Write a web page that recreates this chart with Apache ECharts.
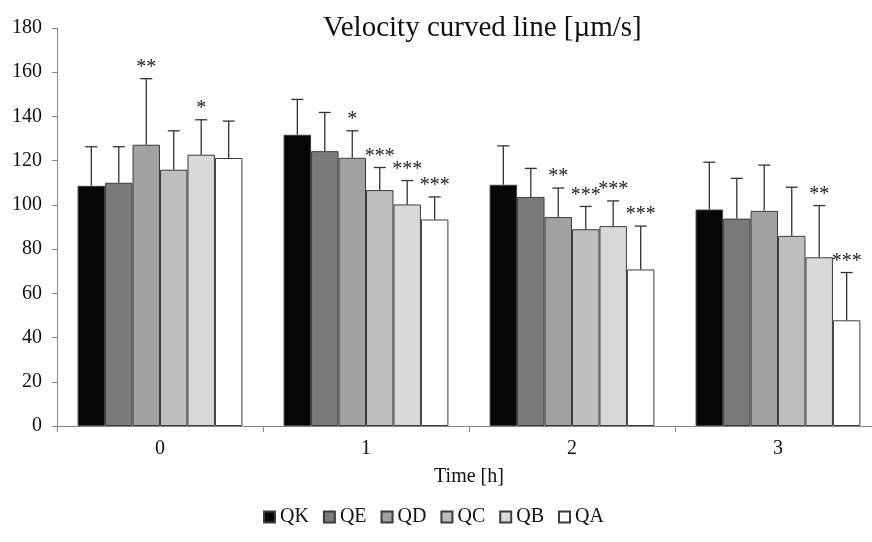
<!DOCTYPE html>
<html>
<head>
<meta charset="utf-8">
<title>Velocity curved line</title>
<script src="https://cdn.jsdelivr.net/npm/echarts@6/dist/echarts.min.js"></script>
<style>
  html, body { margin: 0; padding: 0; background: #fff; }
  #chart { width: 872px; height: 542px; }
</style>
</head>
<body>
<div id="chart"></div>
<script>
// 数据
var categories = ['0', '1', '2', '3'];
var seriesNames = ['QK', 'QE', 'QD', 'QC', 'QB', 'QA'];
var colors = ['#060606', '#7a7a78', '#a1a1a1', '#bebebe', '#d9d9d9', '#ffffff'];

// 平均值
var qkMean = [108.6, 131.7, 109.1, 97.9];
var qeMean = [110.0, 124.3, 103.6, 93.8];
var qdMean = [127.2, 121.3, 94.5, 97.3];
var qcMean = [115.9, 106.7, 89.0, 86.0];
var qbMean = [122.7, 100.2, 90.4, 76.3];
var qaMean = [121.2, 93.4, 70.8, 47.8];

// 标准差（只画上半部分）
var qkSd = [17.7, 16.0, 17.6, 21.4];
var qeSd = [16.3, 17.5, 12.9, 18.2];
var qdSd = [29.9, 12.2, 13.1, 20.7];
var qcSd = [17.6, 10.2, 10.3, 22.0];
var qbSd = [15.8, 10.8, 11.4, 23.4];
var qaSd = [16.7, 10.2, 19.6, 21.6];

// 显著性星号
var qkStars = ['', '', '', ''];
var qeStars = ['', '', '', ''];
var qdStars = ['**', '*', '**', ''];
var qcStars = ['', '***', '***', ''];
var qbStars = ['*', '***', '***', '**'];
var qaStars = ['', '***', '***', '***'];

var yTicks = [0, 20, 40, 60, 80, 100, 120, 140, 160, 180];

var means = [qkMean, qeMean, qdMean, qcMean, qbMean, qaMean];
var sds = [qkSd, qeSd, qdSd, qcSd, qbSd, qaSd];
var stars = [qkStars, qeStars, qdStars, qcStars, qbStars, qaStars];

var FONT = 'Liberation Serif';
var CAT_GAP = 0.2;

// 柱状图Series
function initBarSeries() {
  return seriesNames.map(function (name, i) {
    return {
      name: name,
      type: 'bar',
      barGap: '0%',
      barCategoryGap: '20%',
      itemStyle: {
        color: colors[i],
        borderColor: '#3c3c3c',
        borderWidth: 1
      },
      emphasis: { disabled: true },
      data: means[i]
    };
  });
}

// 误差线 + 星号
function initErrorSeries() {
  return seriesNames.map(function (name, i) {
    var data = means[i].map(function (m, j) {
      return [j, m, m + sds[i][j], stars[i][j]];
    });
    return {
      name: name,
      type: 'custom',
      z: 10,
      silent: true,
      renderItem: function (params, api) {
        var band = api.size([1, 0])[0];
        var barW = band * (1 - CAT_GAP) / seriesNames.length;
        var offset = -band * (1 - CAT_GAP) / 2 + (i + 0.5) * barW;
        var low = api.coord([api.value(0), api.value(1)]);
        var high = api.coord([api.value(0), api.value(2)]);
        var x = low[0] + offset;
        var cap = 6;
        var style = { stroke: '#333', lineWidth: 1.3 };
        var children = [
          { type: 'line', shape: { x1: x, y1: low[1], x2: x, y2: high[1] }, style: style },
          { type: 'line', shape: { x1: x - cap, y1: high[1], x2: x + cap, y2: high[1] }, style: style }
        ];
        var s = data[params.dataIndex][3];
        if (s) {
          children.push({
            type: 'text',
            style: {
              text: s,
              x: x,
              y: high[1] - 1,
              align: 'center',
              verticalAlign: 'bottom',
              fontFamily: FONT,
              fontSize: 20,
              fill: '#222'
            }
          });
        }
        return { type: 'group', children: children };
      },
      data: data
    };
  });
}

function getOption() {
  return {
    animation: false,
    title: {
      text: 'Velocity curved line [µm/s]',
      left: 318,
      top: 9,
      textStyle: {
        fontFamily: FONT,
        fontWeight: 'normal',
        fontSize: 29,
        color: '#111'
      }
    },
    legend: {
      data: seriesNames,
      left: 258,
      bottom: 10,
      icon: 'rect',
      itemWidth: 11,
      itemHeight: 11,
      itemGap: 14,
      textStyle: {
        fontFamily: FONT,
        fontSize: 20,
        color: '#111'
      }
    },
    grid: {
      left: 57,
      top: 28,
      width: 824,
      bottom: 116,
      outerBoundsMode: 'none'
    },
    xAxis: {
      type: 'category',
      data: categories,
      name: 'Time [h]',
      nameLocation: 'middle',
      nameGap: 41,
      nameTextStyle: {
        fontFamily: FONT,
        fontSize: 20,
        color: '#111'
      },
      axisLine: { lineStyle: { color: '#868686', width: 1 } },
      axisTick: { show: true, length: 6, lineStyle: { color: '#868686' } },
      axisLabel: {
        fontFamily: FONT,
        fontSize: 20,
        color: '#111',
        margin: 13
      }
    },
    yAxis: {
      type: 'value',
      min: yTicks[0],
      max: yTicks[yTicks.length - 1],
      interval: 20,
      axisLine: { show: true, lineStyle: { color: '#868686', width: 1 } },
      axisTick: { show: true, length: 5, lineStyle: { color: '#868686' } },
      splitLine: { show: false },
      axisLabel: {
        fontFamily: FONT,
        fontSize: 20,
        color: '#111',
        margin: 15
      }
    },
    series: initBarSeries().concat(initErrorSeries())
  };
}

var myChart = echarts.init(document.getElementById('chart'));
myChart.setOption(getOption());
</script>
</body>
</html>
